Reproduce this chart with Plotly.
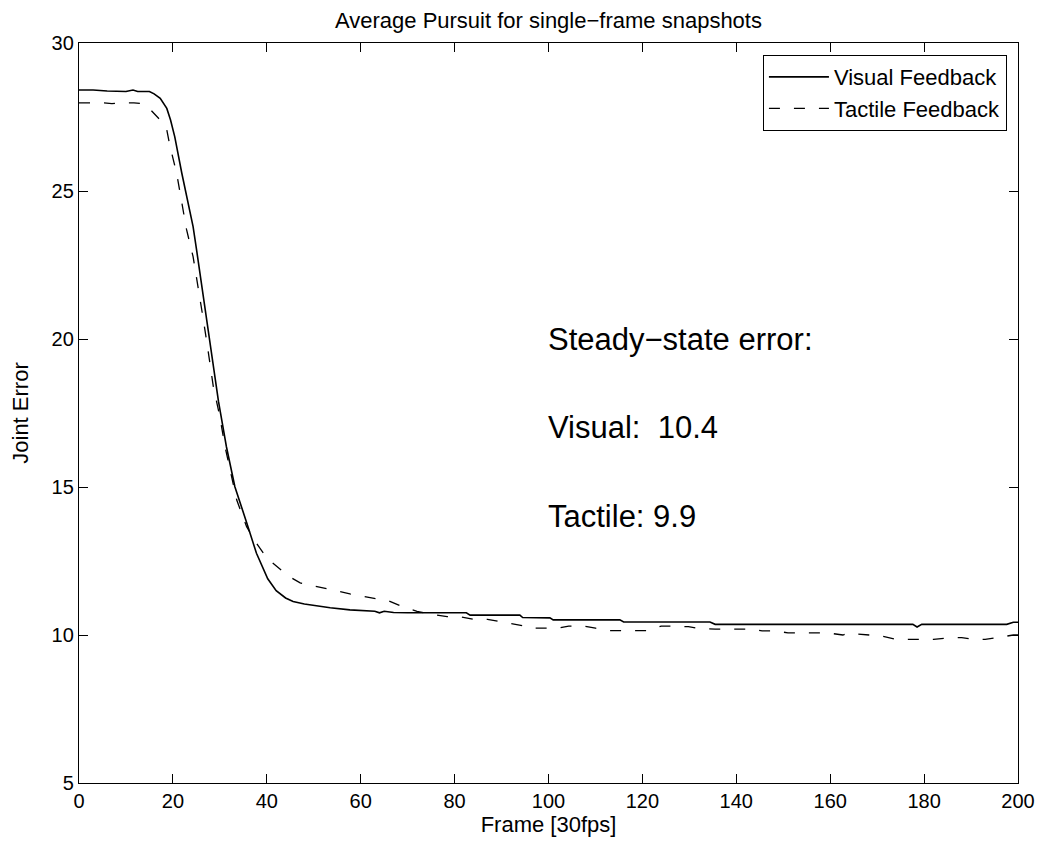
import plotly.graph_objects as go

# Average joint error per frame, visual-feedback pursuit
visual_frame = [0, 3, 6, 8, 10, 11.5, 12.5, 15, 16, 17.3, 18.7, 19.5, 20.4, 21.9, 23.3, 24.3,
                25.1, 26.1, 27.2, 28.6, 29.7, 31.4, 33.2, 35.7, 37.8, 40.2, 42, 44, 45.6, 48,
                50, 53.5, 57.7, 61, 63, 64, 65, 67, 70, 82.5, 83.3, 93.9, 94.5, 100.3, 101,
                115.2, 116, 134.4, 135.5, 177.6, 178.5, 179.5, 197.6, 199, 200]
visual_error = [28.41, 28.41, 28.38, 28.36, 28.36, 28.41, 28.36, 28.36, 28.28, 28.13, 27.79,
                27.4, 26.83, 25.6, 24.58, 23.8, 22.95, 21.85, 20.6, 19.1, 17.9, 16.36, 15.01,
                13.8, 12.76, 11.9, 11.5, 11.25, 11.13, 11.05, 11.0, 10.92, 10.85, 10.82, 10.8,
                10.75, 10.8, 10.76, 10.75, 10.75, 10.67, 10.67, 10.59, 10.58, 10.51, 10.51,
                10.44, 10.44, 10.36, 10.36, 10.27, 10.36, 10.36, 10.43, 10.43]

# Average joint error per frame, tactile-feedback pursuit
tactile_frame = [0, 5, 7, 9, 11.7, 13.4, 14.8, 16, 17.3, 18.7, 19.4, 20.8, 21.9, 22.9, 24.3,
                 25.4, 26.5, 27.5, 28.6, 30.0, 31.1, 32.2, 33.6, 35.7, 37.8, 40, 42.1, 44.5,
                 47.1, 52, 57.7, 63.4, 66, 69, 72, 74.8, 78.4, 81, 84, 87, 89.7, 92.2, 95, 96,
                 98.5, 101.8, 104.3, 107.5, 110, 113, 121, 124, 126.5, 129.8, 132, 135.5,
                 143.5, 145.5, 148.4, 151, 159.5, 162.7, 164, 165, 168.3, 170.8, 174, 182,
                 185.4, 188, 191, 193, 196.4, 199, 200]
tactile_error = [27.98, 27.98, 27.95, 27.98, 27.98, 27.95, 27.82, 27.6, 27.4, 27.06, 26.5,
                 25.6, 24.55, 23.7, 22.78, 21.77, 20.64, 19.6, 18.4, 17.38, 16.36, 15.57,
                 14.56, 13.66, 13.1, 12.6, 12.31, 12.0, 11.76, 11.59, 11.39, 11.22, 11.15,
                 10.95, 10.8, 10.71, 10.62, 10.62, 10.53, 10.53, 10.45, 10.4, 10.3, 10.23,
                 10.23, 10.23, 10.3, 10.3, 10.23, 10.15, 10.15, 10.3, 10.3, 10.28, 10.22,
                 10.2, 10.2, 10.14, 10.14, 10.07, 10.07, 10.0, 10.07, 10.04, 10.0, 9.97,
                 9.85, 9.85, 9.91, 9.91, 9.85, 9.85, 9.93, 10.0, 10.0]

x_ticks = [0, 20, 40, 60, 80, 100, 120, 140, 160, 180, 200]
y_ticks = [5, 10, 15, 20, 25, 30]

steady_state_lines = ["Steady\u2212state error:", "Visual:\u00a0 10.4", "Tactile: 9.9"]
steady_state_y = [20.0, 17.0, 14.0]

FONT = "Liberation Sans, Arial, Helvetica, sans-serif"

fig = go.Figure()
fig.add_trace(go.Scatter(x=visual_frame, y=visual_error, mode="lines",
                         name="Visual Feedback",
                         line=dict(color="black", width=1.6)))
fig.add_trace(go.Scatter(x=tactile_frame, y=tactile_error, mode="lines",
                         name="Tactile Feedback",
                         line=dict(color="black", width=1.3, dash="11px,14px")))

for text, yv in zip(steady_state_lines, steady_state_y):
    fig.add_annotation(x=99.4, y=yv, text=text, showarrow=False,
                       xanchor="left", yanchor="middle",
                       font=dict(family=FONT, size=31, color="black"))

axis_common = dict(
    showgrid=False, zeroline=False, showline=True, mirror="ticks",
    linecolor="black", linewidth=1.4, ticks="inside", ticklen=9,
    tickwidth=1.2, tickcolor="black", automargin=False,
    tickfont=dict(family=FONT, size=20, color="black"),
)

fig.update_layout(
    width=1037, height=844,
    margin=dict(l=79, r=19, t=43, b=61),
    paper_bgcolor="white", plot_bgcolor="white",
    font=dict(family=FONT, color="black"),
    title=dict(text="Average Pursuit for single\u2212frame snapshots",
               x=0.5289, xanchor="center", y=0.976, yanchor="middle",
               font=dict(family=FONT, size=22, color="black")),
    xaxis=dict(range=[0, 200], tickvals=x_ticks,
               title=dict(text="Frame [30fps]", standoff=4,
                          font=dict(family=FONT, size=22, color="black")),
               **axis_common),
    yaxis=dict(range=[5, 30], tickvals=y_ticks,
               title=dict(text="Joint Error", standoff=16,
                          font=dict(family=FONT, size=22, color="black")),
               **axis_common),
    legend=dict(x=0.988, xanchor="right", y=0.984, yanchor="top",
                bgcolor="white", bordercolor="black", borderwidth=1.2,
                font=dict(family=FONT, size=22, color="black"),
                itemwidth=60, tracegroupgap=0),
    showlegend=True,
)

fig.write_html("out.html")
